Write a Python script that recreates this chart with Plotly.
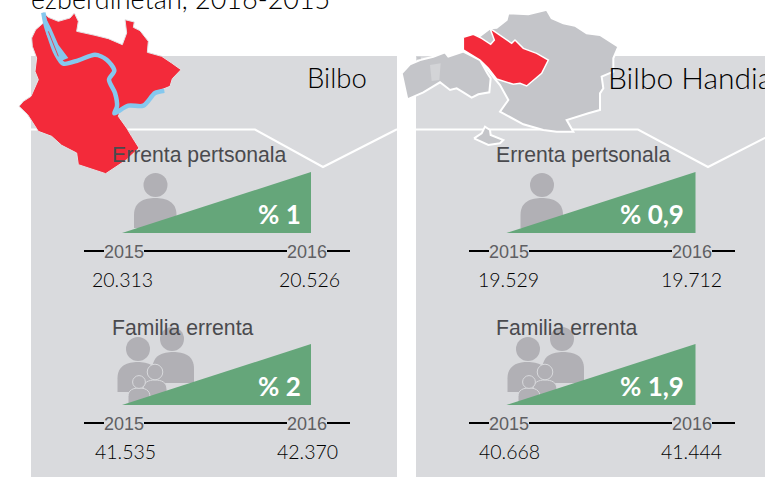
import plotly.graph_objects as go

# ---- data ----
panel_names = ["Bilbo", "Bilbo Handia"]
years = ["2015", "2016"]
personal_2015 = ["20.313", "19.529"]
personal_2016 = ["20.526", "19.712"]
family_2015 = ["41.535", "40.668"]
family_2016 = ["42.370", "41.444"]
personal_pct = ["% 1", "% 0,9"]
family_pct = ["% 2", "% 1,9"]
row_labels = ["Errenta pertsonala", "Familia errenta"]
title_text = "ezberdinetan, 2016-2015"

# ---- style ----
PANEL = "#d9dadd"; GREEN = "#65a67a"; RED = "#f32a3a"; MAPGRAY = "#c4c5c9"
ICON = "#b1b0b5"; RIVER = "#85c8ee"
GOTHIC = "Lato, 'Open Sans', sans-serif"
ARIAL = "'Liberation Sans', Arial, sans-serif"

# illustration outlines (map silhouettes, traced in 3x zoom coordinates)
def z(pts, ox=0, oy=0):
    return [ox + p[0] / 3 for p in pts], [oy + p[1] / 3 for p in pts]

BX, BY = 15, 8
bilbao_map = [(85,12),(100,28),(130,40),(165,30),(178,15),(190,40),(185,70),(240,82),(280,92),(322,110),(335,75),(330,35),(358,42),(355,58),(375,68),(400,100),(397,133),(440,145),(470,165),(498,185),(472,212),(465,235),(440,245),(415,265),(390,295),(345,290),(318,305),(310,325),(335,360),(350,385),(372,420),(335,455),(272,497),(190,470),(185,435),(140,412),(110,385),(70,370),(38,320),(12,295),(25,280),(48,265),(70,215),(60,190),(65,150),(52,115),(50,90),(62,65),(85,45)]
river = [(85,14),(92,50),(105,90),(122,135),(145,167),(190,157),(240,140),(275,155),(298,188),(282,215),(300,255),(306,295),(298,316),(340,293),(385,293),(420,255),(448,248)]
river_arm = [(90,25),(108,60),(130,110),(160,150),(140,158),(120,135),(95,80)]
river_isle = [(100,70),(130,145)]

MX, MY = 400, 5
biz_east = [(270,70),(290,68),(320,45),(325,25),(385,28),(440,14),(455,40),(490,55),(525,62),(560,85),(600,90),(655,125),(640,160),(640,200),(605,215),(610,250),(600,265),(600,315),(565,325),(500,345),(520,380),(470,380),(430,375),(370,358),(300,320),(325,285),(300,240),(285,222),(240,165),(190,130)]
biz_west = [(5,205),(30,178),(60,165),(100,155),(135,142),(145,155),(190,140),(240,165),(262,205),(272,220),(268,262),(235,268),(215,278),(190,262),(170,250),(150,255),(120,232),(70,262),(22,283)]
biz_enclave = [(90,180),(122,175),(118,225),(95,228)]
biz_dot = [(50,155),(62,155),(62,163),(52,163)]
biz_island = [(222,400),(245,385),(255,365),(270,375),(272,390),(310,405),(300,415),(265,420)]
biz_red = [(190,97),(220,88),(245,100),(272,118),(283,105),(270,70),(335,115),(345,105),(370,130),(410,145),(445,165),(425,205),(380,243),(360,235),(340,238),(290,222),(265,190),(240,165),(190,135)]

fig = go.Figure()
shapes = []

def poly(xs, ys, color, lw=0, lc="rgba(0,0,0,0)"):
    fig.add_trace(go.Scatter(x=xs + xs[:1], y=ys + ys[:1], mode="lines", fill="toself",
                             fillcolor=color, line=dict(color=lc, width=lw, simplify=False),
                             hoverinfo="skip", showlegend=False))

def circle(cx, cy, r, fill=ICON, lc=None):
    shapes.append(dict(type="circle", x0=cx-r, x1=cx+r, y0=cy-r, y1=cy+r, fillcolor=fill,
                       line=dict(color=lc or fill, width=1 if lc else 0), layer="below"))

def body(x0, x1, top, bottom, lc=None):
    w = x1 - x0
    p = (f"M{x0},{bottom} L{x0},{top+w*0.4} C{x0},{top+w*0.08} {x0+w*0.25},{top} {x0+w*0.5},{top} "
         f"C{x1-w*0.25},{top} {x1},{top+w*0.08} {x1},{top+w*0.4} L{x1},{bottom} Z")
    shapes.append(dict(type="path", path=p, fillcolor=ICON,
                       line=dict(color=lc or ICON, width=1 if lc else 0), layer="below"))

def text(x, y, s, size, color, family=GOTHIC, anchor="center", bg=None, yshift=0, weight=None):
    fig.add_annotation(x=x, y=y, text=s, showarrow=False, xanchor=anchor, yanchor="middle",
                       font=dict(size=size, color=color, family=family, weight=weight),
                       bgcolor=bg, borderpad=0, borderwidth=0, yshift=yshift)

# panels
panel_x = [(31, 397), (416, 772)]
notch = [((255, 129.5), (323, 167)), ((638, 129.5), (708, 167))]
for i, (x0, x1) in enumerate(panel_x):
    shapes.append(dict(type="rect", x0=x0, x1=x1, y0=56, y1=477, fillcolor=PANEL, line_width=0, layer="below"))
    a, b = notch[i]
    shapes.append(dict(type="path", path=f"M{x0},129.5 L{a[0]},{a[1]} L{b[0]},{b[1]} L{x1},{b[1] - (x1 - b[0]) * 0.51}",
                       line=dict(color="white", width=2), layer="below"))

# map illustrations
poly(*z(bilbao_map, BX, BY), RED, 1, "#e4e4e7")
fig.add_trace(go.Scatter(x=z(river, BX, BY)[0], y=z(river, BX, BY)[1], mode="lines",
                         line=dict(color=RIVER, width=4.5, shape="spline", smoothing=0.8),
                         hoverinfo="skip", showlegend=False))
poly(*z(river_arm, BX, BY), RIVER)
fig.add_trace(go.Scatter(x=z(river_isle, BX, BY)[0], y=z(river_isle, BX, BY)[1], mode="lines",
                         line=dict(color=RED, width=0.8), hoverinfo="skip", showlegend=False))
for shape in (biz_east, biz_west, biz_island):
    poly(*z(shape, MX, MY), MAPGRAY, 2, "white")
poly(*z(biz_dot, MX, MY), MAPGRAY)
poly(*z(biz_enclave, MX, MY), "#d3d4d7")
poly(*z(biz_red, MX, MY), RED, 1.5, "white")

# per-panel content
dx_list = [0, 385]
icon_dx = [(0, 0), (386.5, 390)]
value_x = [[(122, 309), (125.5, 307.5)], [(508.5, 691), (509, 691.5)]]
for i, dx in enumerate(dx_list):
    rows = [(personal_2015[i], personal_2016[i], personal_pct[i], 172, row_labels[0], 155),
            (family_2015[i], family_2016[i], family_pct[i], 344, row_labels[1], 327)]
    for j, (v0, v1, pct, top, label, ly) in enumerate(rows):
        base = top + 61
        d = icon_dx[i][j]
        if j == 0:
            circle(155.5 + d, 185, 12)
            body(134 + d, 176.5 + d, 198, 228)
        else:
            circle(138 + d, 349, 12)
            body(117.5 + d, 158 + d, 362, 392)
            circle(172 + d, 339, 12)
            body(152.5 + d, 194 + d, 352, 383)
            body(143 + d, 167 + d, 380, 403, PANEL)
            circle(155 + d, 372, 7.8, ICON, PANEL)
            body(128 + d, 150 + d, 388, 404, PANEL)
            circle(139 + d, 382, 6.4, ICON, PANEL)
        # rising triangle
        tx = dx - (0.5 if i else 0)
        poly([122 + tx, 311 + tx, 311 + tx], [base, base, top], GREEN)
        text(301 + tx + (0 if i == 0 else -1.5), top + 42, f"<b>{pct}</b>", 26, "white", anchor="right")
        # year rule
        ry = base + 18
        fig.add_trace(go.Scatter(x=[84 + dx, 350 + dx], y=[ry, ry], mode="lines",
                                 line=dict(color="#000000", width=2), hoverinfo="skip", showlegend=False))
        text(124 + dx, ry + 1, years[0], 18, "#5f5f63", ARIAL, bg=PANEL)
        text(306.5 + dx, ry + 1, years[1], 18, "#5f5f63", ARIAL, bg=PANEL)
        vy = ry + 28
        text(value_x[i][j][0], vy, v0, 19.5, "#000000", weight=300)
        text(value_x[i][j][1], vy, v1, 19.5, "#000000", weight=300)
        text(112 + dx - (1 if i else 0), ly, label, 21.2, "#4a4a4e", ARIAL, anchor="left")
    # panel name
    if i == 0:
        text(367, 77, panel_names[0], 27.5, "#000000", anchor="right", weight=300)
    else:
        text(608, 77, panel_names[1], 30, "#000000", anchor="left", weight=300)

text(31, 0, title_text, 27, "#000000", anchor="left", yshift=2, weight=300)

fig.update_layout(
    width=765, height=477, margin=dict(l=0, r=0, t=0, b=0),
    paper_bgcolor="white", plot_bgcolor="white", showlegend=False, shapes=shapes,
    xaxis=dict(range=[0, 765], visible=False, fixedrange=True),
    yaxis=dict(range=[477, 0], visible=False, fixedrange=True),
)
fig.write_html("out.html", config={"displayModeBar": False},
               post_script="document.body.style.margin='0';document.body.style.overflow='hidden';")
